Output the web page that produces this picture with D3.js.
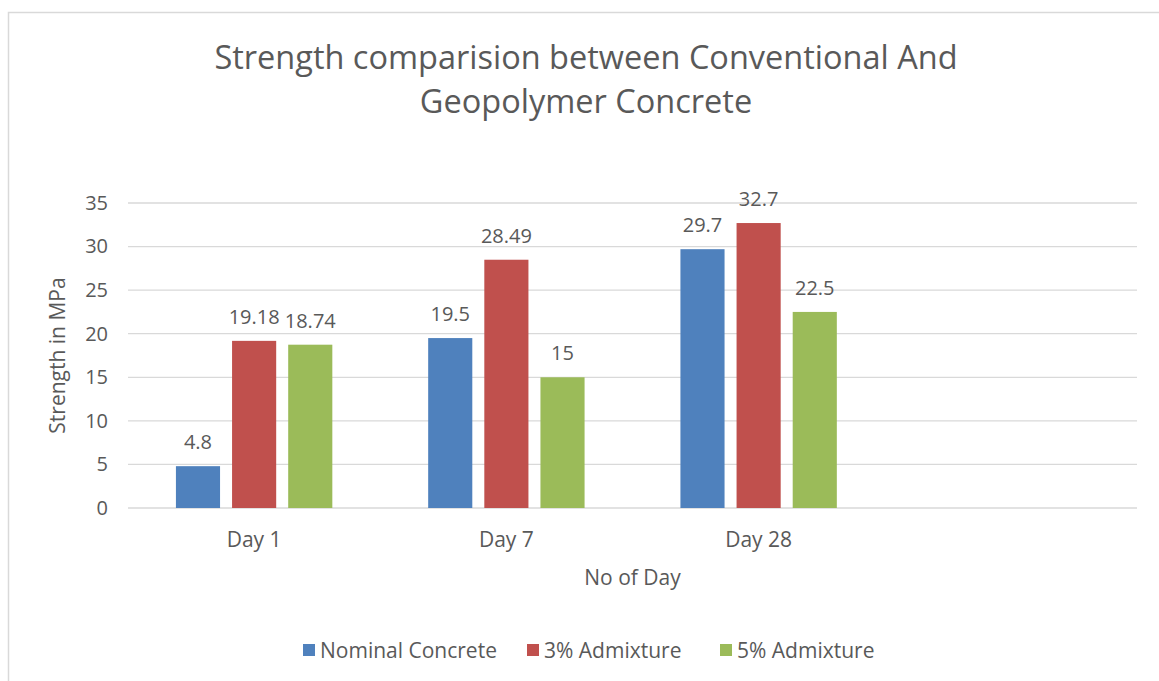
<!DOCTYPE html>
<html>
<head>
<meta charset="utf-8">
<script src="https://cdn.jsdelivr.net/npm/d3@7"></script>
<style>
  html, body { margin: 0; padding: 0; background: #fff; }
  svg text { font-family: "Open Sans", sans-serif; fill: #595959; }
</style>
</head>
<body>
<svg id="chart"></svg>
<script>
// categories (4th slot is left blank, as in the original sheet)
const categories = ['Day 1', 'Day 7', 'Day 28', '']
const seriesNames = ['Nominal Concrete', '3% Admixture', '5% Admixture']
const nominal = [4.8, 19.5, 29.7, null]
const admix3 = [19.18, 28.49, 32.7, null]
const admix5 = [18.74, 15, 22.5, null]
const yTicks = [0, 5, 10, 15, 20, 25, 30, 35]
const colors = ['#4F81BD', '#C0504D', '#9BBB59']

const width = 1159
const height = 681
const plotLeft = 128, plotRight = 1137, plotTop = 203, plotBottom = 508

const svg = d3.select('#chart')
    .attr('width', width)
    .attr('height', height)

// chart frame
svg.append('rect')
    .attr('x', 8.5).attr('y', 12.5)
    .attr('width', width + 20).attr('height', height + 20)
    .attr('fill', '#fff')
    .attr('stroke', '#d9d9d9')
    .attr('stroke-width', 1.5)

let series = seriesNames.map((name, i) => ({ name, values: [nominal, admix3, admix5][i] }))

let x = d3.scaleBand()
    .domain(categories)
    .range([plotLeft, plotRight])
    .paddingInner(0.38)
    .paddingOuter(0.19)

let xInner = d3.scaleBand()
    .domain(seriesNames)
    .range([0, x.bandwidth()])
    .paddingInner(0.214)

let y = d3.scaleLinear()
    .domain([0, 35])
    .range([plotBottom, plotTop])

// gridlines
svg.append('g')
    .selectAll('line')
    .data(yTicks)
    .join('line')
      .attr('x1', plotLeft).attr('x2', plotRight)
      .attr('y1', d => y(d)).attr('y2', d => y(d))
      .attr('stroke', '#d9d9d9')
      .attr('stroke-width', 1.3)

// y axis labels
let yAxis = svg.append('g')
    .attr('transform', `translate(${plotLeft - 20}, 0)`)
    .call(d3.axisLeft(y).tickValues(yTicks).tickSize(0).tickPadding(0))
yAxis.select('.domain').remove()
yAxis.selectAll('text')
    .attr('font-size', 20)
    .attr('fill', '#595959')
yAxis.attr('font-family', null)

// x axis labels
let xAxis = svg.append('g')
    .attr('transform', `translate(0, ${plotBottom})`)
    .call(d3.axisBottom(x).tickSize(0).tickPadding(24))
xAxis.select('.domain').remove()
xAxis.selectAll('text')
    .attr('font-size', 21)
    .attr('fill', '#595959')
xAxis.attr('font-family', null)

// bars
let groups = svg.append('g')
    .selectAll('g')
    .data(series)
    .join('g')
      .attr('fill', (d, i) => colors[i])

groups.selectAll('rect')
    .data(s => s.values.map((v, j) => ({ name: s.name, cat: categories[j], v })).filter(d => d.v != null))
    .join('rect')
      .attr('x', d => x(d.cat) + xInner(d.name))
      .attr('width', xInner.bandwidth())
      .attr('y', d => y(d.v))
      .attr('height', d => y(0) - y(d.v))

// data labels
groups.selectAll('text')
    .data(s => s.values.map((v, j) => ({ name: s.name, cat: categories[j], v })).filter(d => d.v != null))
    .join('text')
      .attr('x', d => x(d.cat) + xInner(d.name) + xInner.bandwidth() / 2)
      .attr('y', d => y(d.v) - 17)
      .attr('text-anchor', 'middle')
      .attr('font-size', 20)
      .text(d => d.v)

// title
svg.append('text')
    .attr('x', 586).attr('y', 69)
    .attr('text-anchor', 'middle')
    .attr('font-size', 32.5)
  .selectAll('tspan')
    .data(['Strength comparision between Conventional And', 'Geopolymer Concrete'])
    .join('tspan')
      .attr('x', 586)
      .attr('dy', (d, i) => i === 0 ? 0 : 44)
      .text(d => d)

// axis titles
svg.append('text')
    .attr('x', (plotLeft + plotRight) / 2).attr('y', 585)
    .attr('text-anchor', 'middle')
    .attr('font-size', 21)
    .text('No of Day')

svg.append('text')
    .attr('transform', `translate(65, ${(plotTop + plotBottom) / 2}) rotate(-90)`)
    .attr('text-anchor', 'middle')
    .attr('font-size', 21)
    .text('Strength in MPa')

// legend
let legendX = [303, 527, 720]
let legend = svg.append('g')
    .selectAll('g')
    .data(seriesNames)
    .join('g')
      .attr('transform', (d, i) => `translate(${legendX[i]}, 650)`)

legend.append('rect')
    .attr('x', 0).attr('y', -6)
    .attr('width', 12).attr('height', 12)
    .attr('fill', (d, i) => colors[i])

legend.append('text')
    .attr('x', 17).attr('y', 7.5)
    .attr('font-size', 21)
    .text(d => d)
</script>
</body>
</html>
